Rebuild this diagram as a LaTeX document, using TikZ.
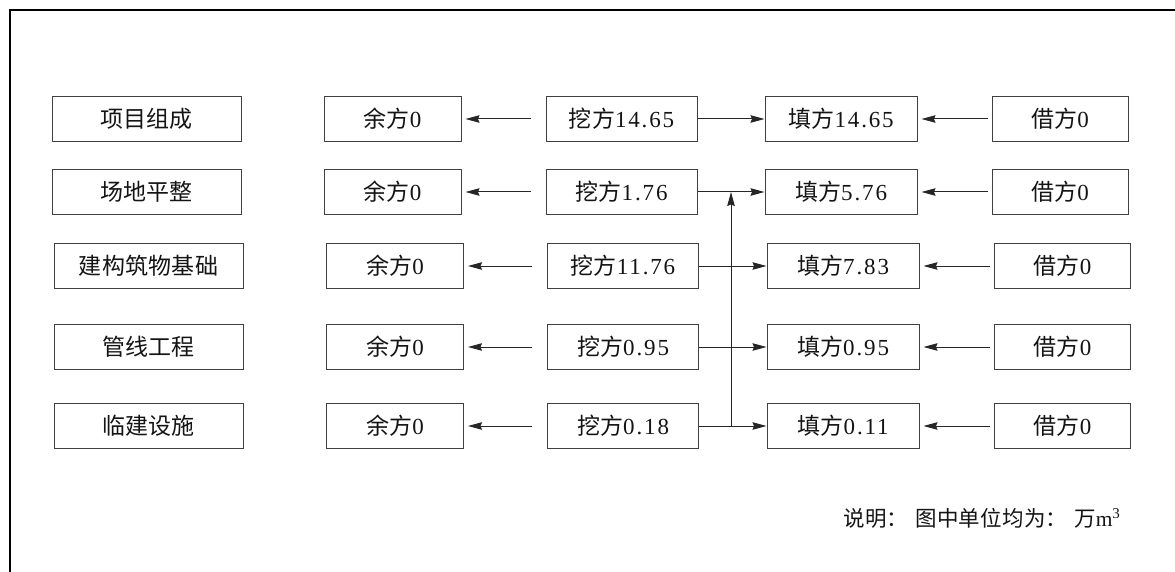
\documentclass[tikz,border=0pt]{standalone}
\usepackage{fontspec}
\setmainfont{Liberation Serif}
\newfontfamily\cjk{Noto Sans CJK SC}[LetterSpace=1]
\newfontfamily\numf{Liberation Serif}[LetterSpace=8]
\usetikzlibrary{arrows.meta}
\newcommand\lbl[2]{{\cjk #1}{\numf #2}}
\begin{document}
\begin{tikzpicture}[x=1pt,y=-1pt,
  box/.style={draw=black!75, line width=1pt, minimum height=45pt, inner sep=0pt,
    text=black!92, font=\fontsize{23}{26}\selectfont},
  c1/.style={box, minimum width=189pt},
  c2/.style={box, minimum width=137pt},
  c3/.style={box, minimum width=151pt},
  c4/.style={box, minimum width=152pt},
  c5/.style={box, minimum width=136pt},
  arr/.style={draw=black!85, line width=1pt, -{Stealth[length=14pt,width=7.5pt,inset=1.5pt]}},
  ln/.style={draw=black!85, line width=1pt}]
\useasboundingbox (0,0) rectangle (1175,572);
\draw[line width=2pt] (1190,10) -- (10,10) -- (10,590);

% row 1
\node[c1] (p1) at (146.5,119) {\cjk 项目组成};
\node[c2] (y1) at (392.5,119) {\lbl{余方}{0}};
\node[c3] (w1) at (621.5,119) {\lbl{挖方}{14.65}};
\node[c4] (t1) at (841,119) {\lbl{填方}{14.65}};
\node[c5] (j1) at (1060,119) {\lbl{借方}{0}};
% row 2
\node[c1] (p2) at (146.5,192) {\cjk 场地平整};
\node[c2] (y2) at (392.5,192) {\lbl{余方}{0}};
\node[c3] (w2) at (621.5,192) {\lbl{挖方}{1.76}};
\node[c4] (t2) at (841,192) {\lbl{填方}{5.76}};
\node[c5] (j2) at (1060,192) {\lbl{借方}{0}};
% row 3
\node[c1] (p3) at (148.5,266) {\cjk 建构筑物基础};
\node[c2] (y3) at (395,266) {\lbl{余方}{0}};
\node[c3] (w3) at (623,266) {\lbl{挖方}{11.76}};
\node[c4] (t3) at (843,266) {\lbl{填方}{7.83}};
\node[c5] (j3) at (1062.5,266) {\lbl{借方}{0}};
% row 4
\node[c1] (p4) at (148.5,347) {\cjk 管线工程};
\node[c2] (y4) at (395,347) {\lbl{余方}{0}};
\node[c3] (w4) at (623,347) {\lbl{挖方}{0.95}};
\node[c4] (t4) at (843,347) {\lbl{填方}{0.95}};
\node[c5] (j4) at (1062.5,347) {\lbl{借方}{0}};
% row 5
\node[c1] (p5) at (148.5,426) {\cjk 临建设施};
\node[c2] (y5) at (395,426) {\lbl{余方}{0}};
\node[c3] (w5) at (623,426) {\lbl{挖方}{0.18}};
\node[c4] (t5) at (843,426) {\lbl{填方}{0.11}};
\node[c5] (j5) at (1062.5,426) {\lbl{借方}{0}};

% excavation -> surplus, borrow -> fill
\foreach \i in {1,...,5} {
  \draw[arr, shorten <=15pt, shorten >=4pt] (w\i) -- (y\i);
  \draw[arr, shorten <=4pt, shorten >=4pt] (j\i) -- (t\i);
}
\draw[arr] (w1) -- (t1);
\draw[arr] (w2) -- (t2);
\draw[arr] (w3) -- (t3);
\draw[arr] (w4) -- (t4);
\coordinate (jn) at (731,426);
\coordinate (jt) at (731,192);
\draw[ln] (w5.east) -- (jn);
\draw[arr] (jn) -- (t5);
\draw[arr] (jn) -- (jt);

\node[anchor=west, text=black!92, font=\fontsize{21.5}{24}\selectfont] (note) at (840,518)
  {{\cjk 说明：\hspace{7pt}图中单位均为：\hspace{7pt}万}m\textsuperscript{3}};
\end{tikzpicture}
\end{document}
